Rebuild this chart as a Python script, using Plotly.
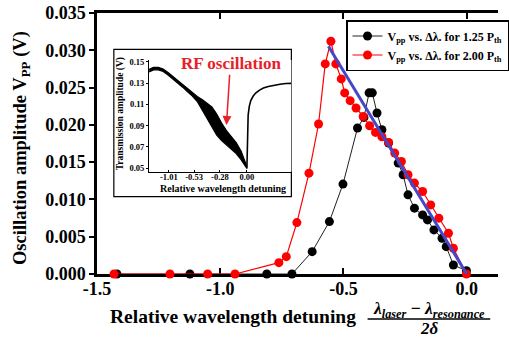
import plotly.graph_objects as go

# ---------------- data ----------------
# main plot: P = 1.25 Pth (black)
det_125 = [-1.419, -1.123, -0.811, -0.709, -0.627, -0.557, -0.502, -0.443, -0.417, -0.396,
           -0.383, -0.364, -0.344, -0.317, -0.278, -0.258, -0.238, -0.212, -0.179, -0.159,
           -0.133, -0.100, -0.083, -0.054, -0.001]
vpp_125 = [0.0, 0.0, 0.0, 0.0, 0.0030, 0.00703, 0.01206, 0.01958, 0.0210, 0.0243,
           0.0243, 0.0216, 0.01935, 0.01757, 0.01488, 0.01331, 0.01062, 0.00883, 0.00793, 0.00726,
           0.00591, 0.0048, 0.00367, 0.00121, 0.00044]

# main plot: P = 2.00 Pth (red)
det_200 = [-1.431, -1.204, -1.051, -0.940, -0.762, -0.732, -0.689, -0.640, -0.601, -0.574,
           -0.551, -0.531, -0.509, -0.495, -0.473, -0.449, -0.420, -0.394, -0.370, -0.344,
           -0.317, -0.292, -0.265, -0.238, -0.212, -0.179, -0.146, -0.113, -0.074, -0.054,
           -0.001]
vpp_200 = [0.0, 0.0, 0.0, 0.0, 0.00152, 0.00233, 0.0069, 0.01353, 0.02012, 0.02818,
           0.03122, 0.02818, 0.02617, 0.02429, 0.02325, 0.02227, 0.02114, 0.01989, 0.01899, 0.01841,
           0.01765, 0.01622, 0.01509, 0.01331, 0.01219, 0.01106, 0.00927, 0.00749, 0.00547, 0.00345,
           0.0]

# linear fit line (blue)
fit_det = [-0.561, 0.0]
fit_vpp = [0.03055, 0.0]

x_tickvals = [-1.5, -1.0, -0.5, 0.0]
x_ticktext = ["-1.5", "-1.0", "-0.5", "0.0"]

# inset: transmission trace (position along sweep, arbitrary units)
ins_pos = [0, 4.5, 9.5, 14.5, 19.5, 24.5, 29.5, 34.5, 39.5, 44.5, 49.5, 54.5, 59.5,
           64.5, 69.5, 74.5, 79.5, 84.5, 89.5, 94.5, 98.5, 100.5]
ins_upper = [0.1427, 0.1446, 0.1447, 0.1431, 0.1399, 0.1361, 0.1323, 0.1286, 0.1244, 0.1206,
             0.1173, 0.1145, 0.1112, 0.1075, 0.1009, 0.0924, 0.0854, 0.0798, 0.0741, 0.0662,
             0.0568, 0.0516]
ins_lower = [0.1403, 0.1422, 0.1424, 0.1408, 0.1375, 0.1338, 0.1300, 0.1261, 0.1217, 0.1178,
             0.1126, 0.1046, 0.0967, 0.0878, 0.0812, 0.0760, 0.0718, 0.0680, 0.0638, 0.0582,
             0.0530, 0.0499]
ins_rise_pos = [100.5, 100.8, 101.1, 101.8, 103, 104.5, 107, 109.5, 113.5, 117.5, 122.5,
                127.5, 134.5, 140.5, 146]
ins_rise_val = [0.0499, 0.0671, 0.0859, 0.0999, 0.1084, 0.1136, 0.1178, 0.1206, 0.1234,
                0.1253, 0.1267, 0.1277, 0.1289, 0.1295, 0.1297]
ins_x_tickvals = [20.3, 46.2, 72.8, 100.5]
ins_x_ticktext = ["-1.01", "-0.53", "-0.28", "0.00"]
ins_y_tickvals = [0.05, 0.07, 0.09, 0.11, 0.13, 0.15]

# ---------------- layout helpers ----------------
W, H = 509, 337
ML, MR, MT, MB = 97, 0, 13, 63
PW = W - ML - MR
PH = H - MT - MB


def px(x):
    return (x - ML) / PW


def py(y):
    return (H - MB - y) / PH


FONT = "Liberation Serif, Times New Roman, serif"
RED = "#ff0000"
BLUE = "#4646c8"

fig = go.Figure()

fig.add_trace(go.Scatter(
    x=det_125, y=vpp_125, mode="lines+markers",
    name="V<sub>pp</sub> vs. Δλ. for 1.25 P<sub>th</sub>",
    line=dict(color="#222222", width=1),
    marker=dict(color="black", size=9),
    cliponaxis=False,
))
fig.add_trace(go.Scatter(
    x=det_200, y=vpp_200, mode="lines+markers",
    name="V<sub>pp</sub> vs. Δλ. for 2.00 P<sub>th</sub>",
    line=dict(color=RED, width=1.2),
    marker=dict(color=RED, size=9),
    cliponaxis=False,
))
fig.add_trace(go.Scatter(
    x=fit_det, y=fit_vpp, mode="lines", showlegend=False,
    line=dict(color=BLUE, width=3),
    cliponaxis=False,
))

# inset traces
fig.add_trace(go.Scatter(
    x=ins_pos, y=ins_lower, mode="lines", xaxis="x2", yaxis="y2",
    line=dict(color="black", width=1.2), showlegend=False,
))
fig.add_trace(go.Scatter(
    x=ins_pos, y=ins_upper, mode="lines", xaxis="x2", yaxis="y2",
    line=dict(color="black", width=1.2), fill="tonexty", fillcolor="black",
    showlegend=False,
))
fig.add_trace(go.Scatter(
    x=ins_rise_pos, y=ins_rise_val, mode="lines", xaxis="x2", yaxis="y2",
    line=dict(color="black", width=1.6), showlegend=False,
))

fig.update_layout(
    width=W, height=H,
    margin=dict(l=ML, r=MR, t=MT, b=MB, pad=0),
    paper_bgcolor="white", plot_bgcolor="white",
    font=dict(family=FONT, color="black"),
    xaxis=dict(
        range=[-1.5, 0.127], tickvals=x_tickvals, ticktext=x_ticktext,
        ticks="inside", ticklen=6, tickwidth=2, tickcolor="black",
        showline=True, linewidth=2.5, linecolor="black", mirror="ticks",
        showgrid=False, zeroline=False, layer="below traces",
        ticklabelstandoff=-3,
        tickfont=dict(size=18, weight="bold", family=FONT),
    ),
    yaxis=dict(
        range=[0, 0.03501], tickvals=[0, 0.005, 0.01, 0.015, 0.02, 0.025, 0.03, 0.035],
        tickformat=".3f",
        ticks="outside", ticklen=5, tickwidth=2, tickcolor="black",
        showline=True, linewidth=2.5, linecolor="black",
        showgrid=False, zeroline=False, layer="below traces",
        tickfont=dict(size=18, weight="bold", family=FONT),
    ),
    xaxis2=dict(
        domain=[px(150.5), px(296.7)], anchor="y2", range=[0, 146.2],
        tickvals=ins_x_tickvals, ticktext=ins_x_ticktext,
        ticks="inside", ticklen=2, tickwidth=1, tickcolor="black",
        showline=True, linewidth=1, linecolor="black",
        showgrid=False, zeroline=False, ticklabelstandoff=-3,
        tickfont=dict(size=8.5, weight="bold", family=FONT),
    ),
    yaxis2=dict(
        domain=[py(171.7), py(60)], anchor="x2", range=[0.0468, 0.1516],
        tickvals=ins_y_tickvals, tickformat=".2f",
        ticks="outside", ticklen=2, tickwidth=1, tickcolor="black",
        showline=True, linewidth=1, linecolor="black",
        showgrid=False, zeroline=False,
        tickfont=dict(size=8.5, weight="bold", family=FONT),
    ),
    legend=dict(
        x=px(353), y=py(20), xanchor="left", yanchor="top",
        bordercolor="black", borderwidth=1.5, bgcolor="white",
        font=dict(size=12, weight="bold", family=FONT),
        tracegroupgap=0, itemwidth=30, traceorder="normal",
    ),
    showlegend=True,
)

# inset frame
fig.add_shape(type="rect", xref="paper", yref="paper",
              x0=px(114.3), x1=px(296.7), y0=py(196.7), y1=py(49.3),
              line=dict(color="black", width=1.2), fillcolor="white", layer="below")

# fraction bar in x-axis title
fig.add_shape(type="line", xref="paper", yref="paper",
              x0=px(375), x1=px(501), y0=py(319), y1=py(319),
              line=dict(color="black", width=1.5))

ann = []
ann.append(dict(text="<b>Oscillation amplitude V<sub>PP</sub> (V)</b>", textangle=-90,
                x=px(20), y=py(148), xref="paper", yref="paper", showarrow=False,
                font=dict(size=18.5, family=FONT), xanchor="center", yanchor="middle"))
ann.append(dict(text="<b>Relative wavelength detuning</b>",
                x=px(237), y=py(316), xref="paper", yref="paper", showarrow=False,
                font=dict(size=19.5, family=FONT), xanchor="center", yanchor="middle"))
ann.append(dict(text="<b><i>λ<sub>laser</sub></i> − <i>λ<sub>resonance</sub></i></b>",
                x=px(438), y=py(309), xref="paper", yref="paper", showarrow=False,
                font=dict(size=17.5, family=FONT), xanchor="center", yanchor="middle"))
ann.append(dict(text="<b><i>2δ</i></b>",
                x=px(439), y=py(328.5), xref="paper", yref="paper", showarrow=False,
                font=dict(size=17, family=FONT), xanchor="center", yanchor="middle"))
ann.append(dict(text="<b>Transmission amplitude (V)</b>", textangle=-90,
                x=px(121), y=py(114), xref="paper", yref="paper", showarrow=False,
                font=dict(size=9.5, family=FONT), xanchor="center", yanchor="middle"))
ann.append(dict(text="<b>Relative wavelength detuning</b>",
                x=px(226), y=py(188), xref="paper", yref="paper", showarrow=False,
                font=dict(size=10, family=FONT), xanchor="center", yanchor="middle"))
ann.append(dict(text="<b>RF oscillation</b>",
                x=px(235), y=py(63.5), xref="paper", yref="paper", showarrow=False,
                font=dict(size=17, family=FONT, color="#e8202a"),
                xanchor="center", yanchor="middle"))
ann.append(dict(text="", x=px(230), y=py(125), xref="paper", yref="paper",
                showarrow=True, arrowhead=2, arrowsize=1.2, arrowwidth=1.5,
                arrowcolor="#e8202a", ax=3.3, ay=-51.7, axref="pixel", ayref="pixel",
                standoff=0))
fig.update_layout(annotations=ann)

fig.write_html("out.html")
